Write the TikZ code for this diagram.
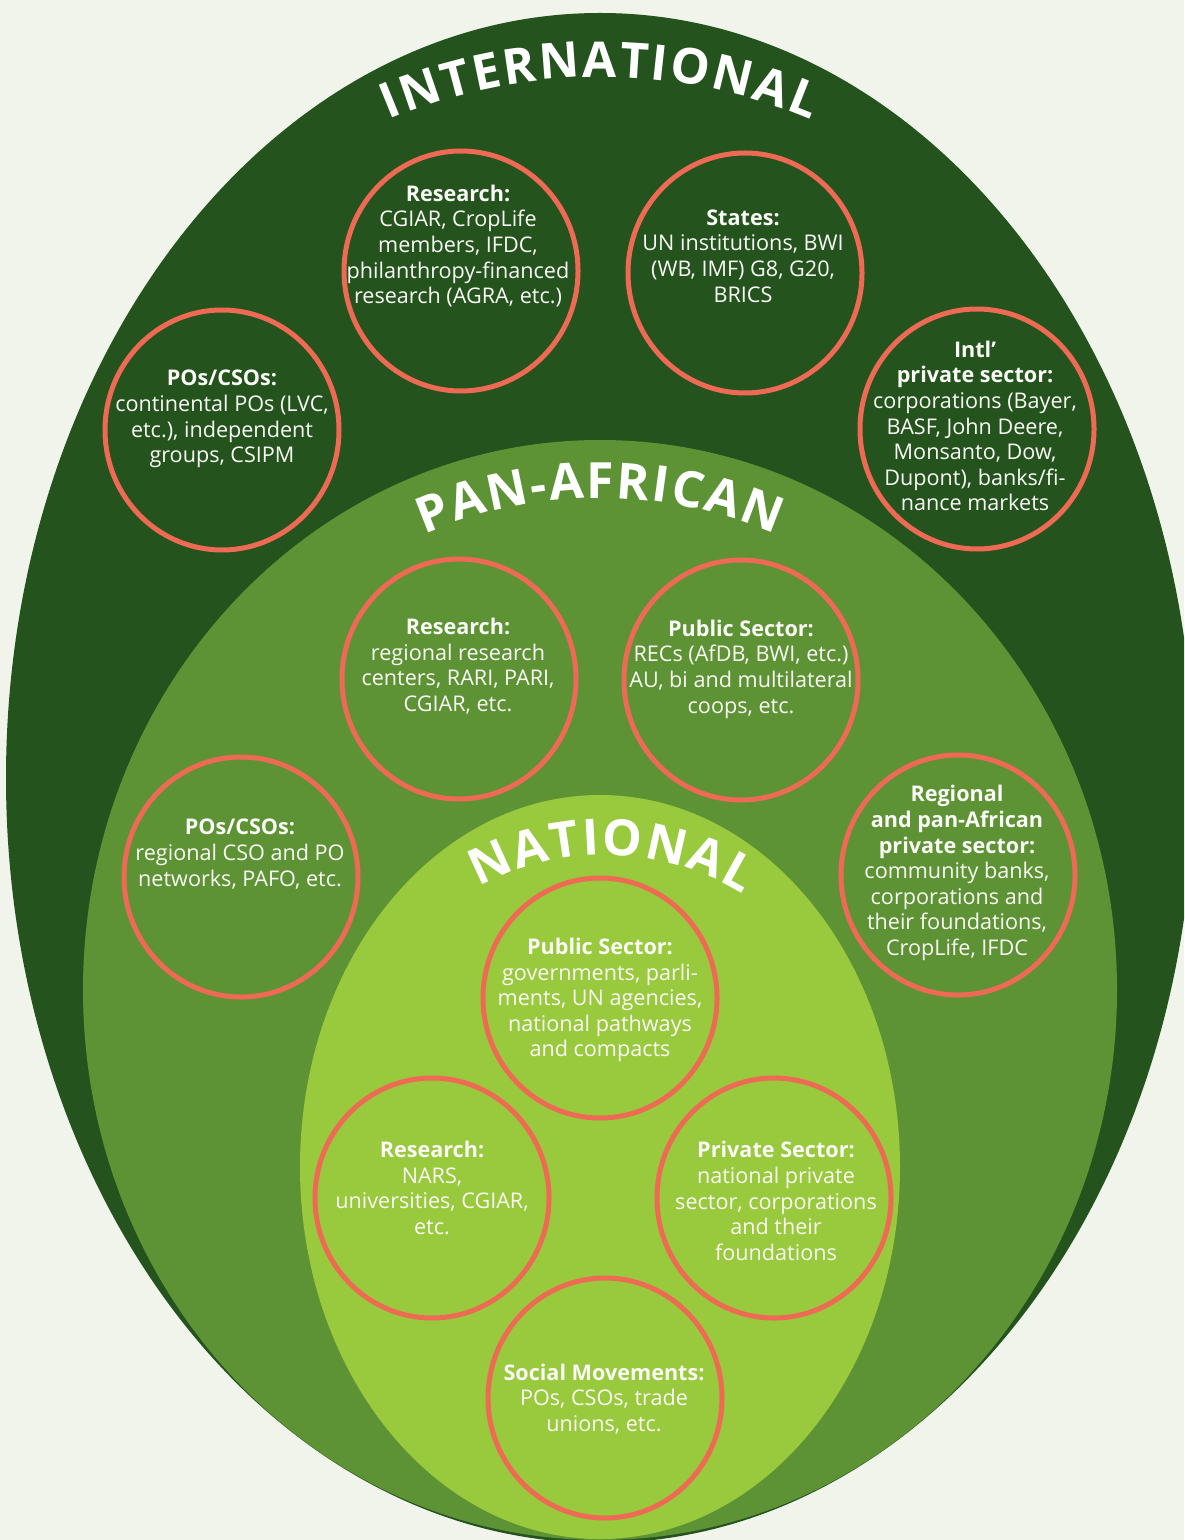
\documentclass[tikz,border=0pt]{standalone}
\usepackage{fontspec}
\setmainfont{Open Sans}
\usetikzlibrary{shapes.geometric,decorations.text}

\definecolor{pagebg}{RGB}{241,244,235}
\definecolor{intlgreen}{RGB}{36,83,30}
\definecolor{pangreen}{RGB}{93,147,52}
\definecolor{natgreen}{RGB}{153,201,60}
\definecolor{ringred}{RGB}{238,106,85}
\definecolor{blurbwhite}{RGB}{250,250,246}

\tikzset{
  ring/.style={ellipse, draw=ringred, line width=3.75pt, minimum width=175.5pt, minimum height=180pt, inner sep=0pt},
  blurb/.style={text=blurbwhite, align=center, inner sep=0pt, font=\fontsize{16.2}{19.2}\selectfont},
  arctitle/.style 2 args={decorate, decoration={text along path, text align={fit to path},
      text={|\color{white}\fontsize{#1}{#1}\selectfont\bfseries|#2}}}
}

\begin{document}
\begin{tikzpicture}[x=0.75pt,y=0.75pt,yscale=-1,xscale=1]
        \useasboundingbox (0,0) rectangle (1184,1540);
        \fill[pagebg] (0,0) rectangle (1184,1540);
        \clip (0,0) rectangle (1184,1540);

        % Levels
        \fill[intlgreen] (600,778) ellipse [x radius=594, y radius=765];
        \fill[pangreen] (600,990) ellipse [x radius=517, y radius=550];
        \fill[natgreen] (600,1167) ellipse [x radius=300, y radius=372];

        % Level titles (flipped back so the lettering stays upright)
        \begin{scope}[yscale=-1]
          \path[arctitle={37}{INTERNATIONAL}]
            ([shift={(600,-617)}]113:540) arc [start angle=113, end angle=67, radius=540];
          \path[arctitle={37.5}{PAN-AFRICAN}]
            ([shift={(600,-937)}]113.5:439) arc [start angle=113.5, end angle=66.5, radius=439];
          \path[arctitle={37.5}{NATIONAL}]
            ([shift={(605,-1115)}]119:260) arc [start angle=119, end angle=58, radius=260];
        \end{scope}

        % Rings
        \node[ring] (intlres) at (461,271) {};
        \node[ring] (intlstates) at (745,273) {};
        \node[ring] (intlpos) at (222,430) {};
        \node[ring] (intlpriv) at (977,429) {};
        \node[ring] (panres) at (459,679) {};
        \node[ring] (panpub) at (741,680) {};
        \node[ring] (panpos) at (241,877) {};
        \node[ring] (panpriv) at (958,875) {};
        \node[ring] (natpub) at (600,998) {};
        \node[ring] (natres) at (432,1198) {};
        \node[ring] (natpriv) at (774,1198) {};
        \node[ring] (natsocial) at (605,1398) {};

        % Text Node
        \node[blurb] (intlrestext) at (458,246) {\textbf{Research:}\\CGIAR, CropLife\\members, IFDC,\\philanthropy-financed\\research (AGRA, etc.)};
        % Text Node
        \node[blurb] (intlstatestext) at (743,256) {\textbf{States:}\\UN institutions, BWI\\(WB, IMF) G8, G20,\\BRICS};
        % Text Node
        \node[blurb] (intlpostext) at (222,419) {\textbf{POs/CSOs:}\\continental POs (LVC,\\etc.), independent\\groups, CSIPM};
        % Text Node
        \node[blurb] (intlprivtext) at (975,426) {\textbf{Intl’}\\\textbf{private sector:}\\corporations (Bayer,\\BASF, John Deere,\\Monsanto, Dow,\\Dupont), banks/fi-\\nance markets};
        % Text Node
        \node[blurb] (panrestext) at (458,666) {\textbf{Research:}\\regional research\\centers, RARI, PARI,\\CGIAR, etc.};
        % Text Node
        \node[blurb] (panpubtext) at (741,669) {\textbf{Public Sector:}\\RECs (AfDB, BWI, etc.)\\AU, bi and multilateral\\coops, etc.};
        % Text Node
        \node[blurb] (panpostext) at (240,854) {\textbf{POs/CSOs:}\\regional CSO and PO\\networks, PAFO, etc.};
        % Text Node
        \node[blurb] (panprivtext) at (957,873) {\textbf{Regional}\\\textbf{and pan-African}\\\textbf{private sector:}\\community banks,\\corporations and\\their foundations,\\CropLife, IFDC};
        % Text Node
        \node[blurb] (natpubtext) at (600,1000) {\textbf{Public Sector:}\\governments, parli-\\ments, UN agencies,\\national pathways\\and compacts};
        % Text Node
        \node[blurb] (natrestext) at (432,1188) {\textbf{Research:}\\NARS,\\universities, CGIAR,\\etc.};
        % Text Node
        \node[blurb] (natprivtext) at (776,1201) {\textbf{Private Sector:}\\national private\\sector, corporations\\and their\\foundations};
        % Text Node
        \node[blurb] (natsocialtext) at (604,1399) {\textbf{Social Movements:}\\POs, CSOs, trade\\unions, etc.};

\end{tikzpicture}
\end{document}
